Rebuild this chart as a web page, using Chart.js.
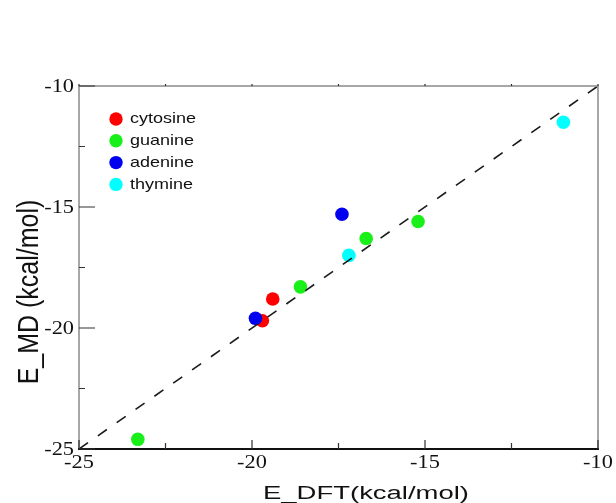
<!DOCTYPE html>
<html>
<head>
<meta charset="utf-8">
<script src="https://cdn.jsdelivr.net/npm/chart.js@4.4.1/dist/chart.umd.min.js"></script>
<style>
  html, body { margin: 0; padding: 0; background: #ffffff; }
  #wrap { width: 616px; height: 503px; }
</style>
</head>
<body>
<div id="wrap"><canvas id="myChart" width="616" height="503"></canvas></div>
<script>
// interaction energies, DFT vs MD (kcal/mol)
const cytosineDFT = [-19.4, -19.7];
const cytosineMD  = [-18.8, -19.7];
const guanineDFT  = [-23.3, -18.6, -16.7, -15.2];
const guanineMD   = [-24.6, -18.3, -16.3, -15.6];
const adenineDFT  = [-19.9, -17.4];
const adenineMD   = [-19.6, -15.3];
const thymineDFT  = [-17.2, -11.0];
const thymineMD   = [-17.0, -11.5];

// y = x reference line
const diagonal = [-25, -10];

const majorTicks = [-25, -20, -15, -10];
const minorTicks = [-22.5, -17.5, -12.5];

const baseNames  = ['cytosine', 'guanine', 'adenine', 'thymine'];
const baseColors = ['#ff0000', '#19f019', '#0000f0', '#00ffff'];

function toPoints(xs, ys) {
    var pts = [];
    for (var i = 0; i < xs.length; i++) {
        pts.push({x: xs[i], y: ys[i]});
    }
    return pts;
}

function pointSet(name, color, xs, ys, order) {
    return {
        label: name,
        data: toPoints(xs, ys),
        backgroundColor: color,
        borderWidth: 0,
        pointRadius: 6.8,
        pointHoverRadius: 6.8,
        showLine: false,
        order: order
    };
}

// draws text squeezed/stretched horizontally by sx
function wideText(ctx, text, x, y, sx, align) {
    ctx.save();
    ctx.translate(x, y);
    ctx.scale(sx, 1);
    ctx.textAlign = align;
    ctx.fillText(text, 0, 0);
    ctx.restore();
}

const framePlugin = {
    id: 'frame',
    afterDatasetsDraw(chart) {
        const ctx = chart.ctx;
        const a = chart.chartArea;
        const xs = chart.scales.x;
        const ys = chart.scales.y;

        ctx.save();
        // box
        ctx.lineWidth = 1.5;
        ctx.strokeStyle = '#8a8a8a';
        ctx.beginPath();
        ctx.moveTo(a.left, a.bottom);
        ctx.lineTo(a.left, a.top);
        ctx.lineTo(a.right, a.top);
        ctx.lineTo(a.right, a.bottom);
        ctx.stroke();
        ctx.strokeStyle = '#111111';
        ctx.lineWidth = 2;
        ctx.beginPath();
        ctx.moveTo(a.left - 1, a.bottom);
        ctx.lineTo(a.right + 1, a.bottom);
        ctx.stroke();

        // inward ticks
        ctx.lineWidth = 1.2;
        ctx.strokeStyle = '#333333';
        majorTicks.forEach(function (v) {
            var px = xs.getPixelForValue(v);
            var py = ys.getPixelForValue(v);
            ctx.beginPath();
            ctx.moveTo(px, a.bottom); ctx.lineTo(px, a.bottom - 9);
            ctx.moveTo(a.left, py); ctx.lineTo(a.left + 16, py);
            ctx.moveTo(px, a.top); ctx.lineTo(px, a.top - 2);
            ctx.stroke();
        });
        minorTicks.forEach(function (v) {
            var px = xs.getPixelForValue(v);
            var py = ys.getPixelForValue(v);
            ctx.beginPath();
            ctx.moveTo(px, a.bottom); ctx.lineTo(px, a.bottom - 6);
            ctx.moveTo(a.left, py); ctx.lineTo(a.left + 6, py);
            ctx.moveTo(px, a.top); ctx.lineTo(px, a.top - 2);
            ctx.stroke();
        });

        // tick labels
        ctx.fillStyle = '#111111';
        ctx.font = '18px "Liberation Serif", "Times New Roman", serif';
        ctx.textBaseline = 'middle';
        majorTicks.forEach(function (v) {
            wideText(ctx, String(v), xs.getPixelForValue(v), a.bottom + 14, 1.24, 'center');
            wideText(ctx, String(v), a.left - 5, ys.getPixelForValue(v) + 1, 1.24, 'right');
        });

        // axis titles
        ctx.font = '18px "Liberation Sans", Arial, sans-serif';
        ctx.textBaseline = 'alphabetic';
        var xTitle = 'E_DFT(kcal/mol)';
        var w = ctx.measureText(xTitle).width;
        wideText(ctx, xTitle, 366, 499, 206 / w, 'center');

        ctx.save();
        ctx.font = '25px "Liberation Sans", Arial, sans-serif';
        ctx.translate(38, 292);
        ctx.scale(1.15, 1);
        ctx.rotate(-Math.PI / 2);
        ctx.textAlign = 'center';
        ctx.fillText('E_MD (kcal/mol)', 0, 0);
        ctx.restore();

        // legend
        ctx.font = '15px "Liberation Sans", Arial, sans-serif';
        ctx.textBaseline = 'middle';
        baseNames.forEach(function (name, i) {
            var ry = a.top + 33 + i * 21.8;
            ctx.fillStyle = baseColors[i];
            ctx.beginPath();
            ctx.arc(a.left + 37, ry, 6.7, 0, Math.PI * 2);
            ctx.fill();
            ctx.fillStyle = '#111111';
            wideText(ctx, name, a.left + 51, ry, 1.2, 'left');
        });
        ctx.restore();
    }
};

var ctx = document.getElementById('myChart').getContext('2d');

var myChart = new Chart(ctx, {
    type: 'scatter',
    data: {
        datasets: [
            {
                label: 'y = x',
                type: 'line',
                data: toPoints(diagonal, diagonal),
                borderColor: '#1a1a1a',
                borderWidth: 1.6,
                borderDash: [11, 12],
                pointRadius: 0,
                fill: false,
                order: 0
            },
            pointSet(baseNames[2], baseColors[2], adenineDFT, adenineMD, 1),
            pointSet(baseNames[0], baseColors[0], cytosineDFT, cytosineMD, 2),
            pointSet(baseNames[3], baseColors[3], thymineDFT, thymineMD, 3),
            pointSet(baseNames[1], baseColors[1], guanineDFT, guanineMD, 4)
        ]
    },
    options: {
        responsive: false,
        animation: false,
        layout: { padding: { top: 86, right: 18, left: 0, bottom: 0 } },
        plugins: {
            legend: { display: false },
            tooltip: { enabled: false }
        },
        scales: {
            x: {
                type: 'linear',
                min: -25,
                max: -10,
                ticks: { display: false },
                grid: { display: false },
                border: { display: false },
                afterFit: function (scale) { scale.height = 54; }
            },
            y: {
                type: 'linear',
                min: -25,
                max: -10,
                ticks: { display: false },
                grid: { display: false },
                border: { display: false },
                afterFit: function (scale) { scale.width = 79; }
            }
        }
    },
    plugins: [framePlugin]
});
</script>
</body>
</html>
